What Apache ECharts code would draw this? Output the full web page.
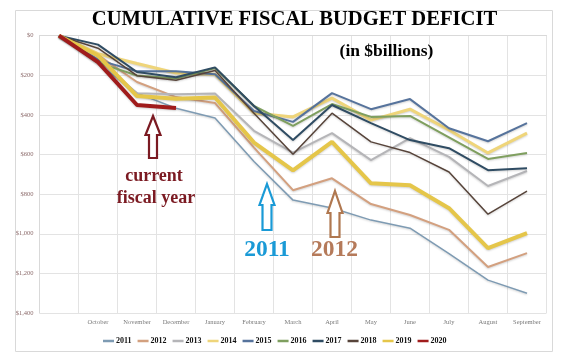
<!DOCTYPE html>
<html><head><meta charset="utf-8">
<script src="https://cdn.jsdelivr.net/npm/echarts@6/dist/echarts.min.js"></script>
<style>html,body{margin:0;padding:0;background:#fff}#c{width:563px;height:354px}</style>
</head><body><div id="c"></div>
<script>
var categories = ["", "October", "November", "December", "January", "February", "March", "April", "May", "June", "July", "August", "September"];
var yTicks = [0, 200, 400, 600, 800, 1000, 1200, 1400];
var s2011 = [0, 140, 290, 366, 416, 635, 830, 870, 931, 972, 1100, 1234, 1300];
var s2012 = [0, 98, 234, 310, 340, 565, 780, 720, 850, 905, 980, 1168, 1098];
var s2013 = [0, 120, 290, 295, 292, 480, 590, 492, 628, 517, 612, 759, 683];
var s2014 = [0, 91, 140, 188, 195, 390, 410, 315, 426, 371, 476, 592, 492];
var s2015 = [0, 122, 180, 180, 195, 380, 435, 290, 371, 320, 467, 533, 441];
var s2016 = [0, 136, 201, 216, 163, 355, 455, 345, 410, 405, 513, 622, 592];
var s2017 = [0, 45, 183, 210, 160, 355, 527, 350, 441, 527, 568, 679, 669];
var s2018 = [0, 63, 202, 225, 176, 391, 598, 391, 536, 590, 688, 901, 785];
var s2019 = [0, 100, 305, 318, 312, 540, 680, 536, 745, 755, 871, 1072, 997];
var s2020 = [0, 133, 350, 365];
var seriesNames = ["2011","2012","2013","2014","2015","2016","2017","2018","2019","2020"];
var seriesData = [s2011,s2012,s2013,s2014,s2015,s2016,s2017,s2018,s2019,s2020];
var colors = ['#7e9bb3','#d3a07f','#b5b5b8','#efd57a','#56739c','#7f9f5f','#2f4c63','#57443a','#e5c64a','#a01c1c'];
var widths = [1.5,2,2,3,2,2,2,1.5,4,4];

var chart = echarts.init(document.getElementById('c'), null, {renderer:'canvas'});
var series = seriesNames.map(function(n,i){
  return {name:n, type:'line', data:seriesData[i], showSymbol:false, symbol:'none',
    lineStyle:{color:colors[i], width:widths[i], shadowColor:'rgba(0,0,0,0.18)', shadowBlur:2, shadowOffsetY:1},
    itemStyle:{color:colors[i]}, animation:false};
});
function fmt(v){return '$'+String(v).replace(/\B(?=(\d{3})+(?!\d))/g, ',');}
function arrow(tipX, tipY, headBaseY, bottomY, headHalf, shaftHalf, color){
  return {type:'polygon', z:100, shape:{points:[[tipX,tipY],[tipX+headHalf,headBaseY],[tipX+shaftHalf,headBaseY],[tipX+shaftHalf,bottomY],[tipX-shaftHalf,bottomY],[tipX-shaftHalf,headBaseY],[tipX-headHalf,headBaseY]]},
    style:{fill:'#fff', stroke:color, lineWidth:2.2}};
}
chart.setOption({
  animation:false,
  color:colors,
  grid:{left:39.5, right:16.5, top:35.7, bottom:41, containLabel:false},
  xAxis:{type:'category', data:categories, boundaryGap:true,
    axisLine:{show:true, lineStyle:{color:'#d9d9d9'}}, axisTick:{show:false},
    axisLabel:{interval:0, fontFamily:'Liberation Serif', fontSize:6.5, color:'#7a7a7a', margin:6},
    splitLine:{show:true, interval:0, lineStyle:{color:'#e3e3e3', width:1}}},
  yAxis:{type:'value', inverse:true, min:0, max:1400, interval:200,
    axisLine:{show:true, lineStyle:{color:'#d9d9d9'}}, axisTick:{show:false},
    axisLabel:{formatter:fmt, fontFamily:'Liberation Serif', fontSize:6.5, color:'#8c6b6b', margin:6},
    splitLine:{lineStyle:{color:'#e3e3e3', width:1}}},
  legend:{data:seriesNames, left:98, top:332, itemWidth:11, itemHeight:2.5, itemGap:6, icon:'rect',
    textStyle:{fontFamily:'Liberation Serif', fontWeight:'bold', fontSize:8, color:'#111', padding:[0,0,0,-3]}},
  series:series,
  graphic:[
    {type:'rect', shape:{x:15.5,y:10.5,width:537,height:341}, style:{fill:'none', stroke:'#d9d9d9', lineWidth:1}, z:-10},
    {type:'text', x:294.5, y:20, z:100, style:{text:'CUMULATIVE FISCAL BUDGET DEFICIT', fontFamily:'Liberation Serif', fontWeight:'bold', fontSize:20.6, fill:'#000', textAlign:'center', textVerticalAlign:'middle'}},
    {type:'text', x:386.5, y:51, z:100, style:{text:'(in $billions)', fontFamily:'Liberation Serif', fontWeight:'bold', fontSize:17.5, fill:'#000', textAlign:'center', textVerticalAlign:'middle'}},
    arrow(153,116,135,158,7.5,4,'#7b1a22'),
    {type:'text', x:154, y:176, z:100, style:{text:'current', fontFamily:'Liberation Serif', fontWeight:'bold', fontSize:18, fill:'#7b1a22', textAlign:'center', textVerticalAlign:'middle'}},
    {type:'text', x:156, y:198, z:100, style:{text:'fiscal year', fontFamily:'Liberation Serif', fontWeight:'bold', fontSize:18, fill:'#7b1a22', textAlign:'center', textVerticalAlign:'middle'}},
    arrow(267,184,205,230,7.5,4.5,'#1a9ad6'),
    {type:'text', x:267, y:250, z:100, style:{text:'2011', fontFamily:'Liberation Serif', fontWeight:'bold', fontSize:23.5, fill:'#1a9ad6', textAlign:'center', textVerticalAlign:'middle'}},
    arrow(335,191,213,237,7.5,4.5,'#b07850'),
    {type:'text', x:334.5, y:250, z:100, style:{text:'2012', fontFamily:'Liberation Serif', fontWeight:'bold', fontSize:23.5, fill:'#b57a5a', textAlign:'center', textVerticalAlign:'middle'}}
  ]
});
</script></body></html>
